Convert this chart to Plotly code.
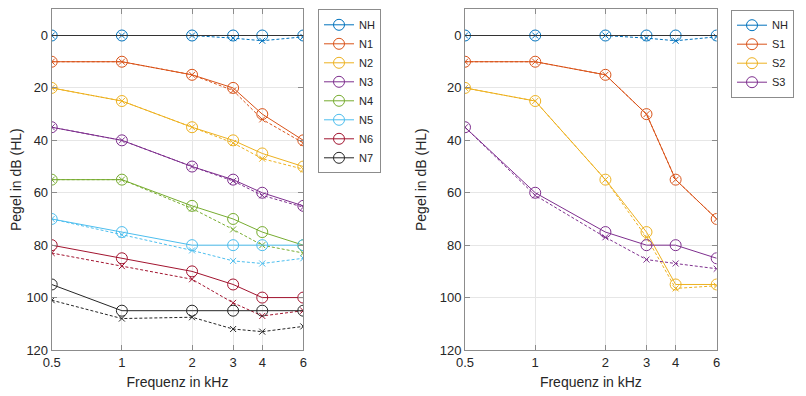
import math
import plotly.graph_objects as go

FREQS = [0.5, 1, 2, 3, 4, 6]
FREQ_LABELS = ["0.5", "1", "2", "3", "4", "6"]
REF_LEVEL = 0

# Left panel: N-series (solid = circles, dashed = crosses)
LEFT_NAMES = ["NH", "N1", "N2", "N3", "N4", "N5", "N6", "N7"]
LEFT_SOLID = [
    [0, 0, 0, 0, 0, 0],
    [10, 10, 15, 20, 30, 40],
    [20, 25, 35, 40, 45, 50],
    [35, 40, 50, 55, 60, 65],
    [55, 55, 65, 70, 75, 80],
    [70, 75, 80, 80, 80, 80],
    [80, 85, 90, 95, 100, 100],
    [95, 105, 105, 105, 105, 105],
]
LEFT_DASHED = [
    [0, 0, 0, 1, 2, 0.5],
    [10, 10, 15, 21, 32, 41],
    [20, 25, 35, 41, 47, 51],
    [35, 40, 50, 55.5, 61, 65.5],
    [55, 55, 66, 74, 80, 83],
    [70, 76, 82, 86, 87, 85],
    [83, 88, 93, 102, 107, 105],
    [101, 108, 107.5, 112, 113, 111],
]

# Right panel: S-series
RIGHT_NAMES = ["NH", "S1", "S2", "S3"]
RIGHT_SOLID = [
    [0, 0, 0, 0, 0, 0],
    [10, 10, 15, 30, 55, 70],
    [20, 25, 55, 75, 95, 95],
    [35, 60, 75, 80, 80, 85],
]
RIGHT_DASHED = [
    [0, 0, 0, 1, 2, 0.5],
    [10, 10, 15, 30, 55, 70],
    [20, 25, 55, 77, 96.5, 95.5],
    [35, 61, 77, 85.5, 87, 89],
]

LEFT_COLORS = ["#0072BD", "#D95319", "#EDB120", "#7E2F8E", "#77AC30", "#4DBEEE", "#A2142F", "#262626"]
RIGHT_COLORS = ["#0072BD", "#D95319", "#EDB120", "#7E2F8E"]

Y_TICKS = [0, 20, 40, 60, 80, 100, 120]

FONT = "Liberation Sans, Arial, sans-serif"
TXT = "#262626"

W, H = 806, 396
OFF = 8  # page body margin offset

fig = go.Figure()


def add_panel(names, solid, dashed, colors, xa, ya, legend):
    for name, s, d, c in zip(names, solid, dashed, colors):
        fig.add_trace(go.Scatter(
            x=FREQS, y=d, mode="lines+markers", xaxis=xa, yaxis=ya,
            line=dict(color=c, width=1, dash="3px,2px"),
            marker=dict(symbol="x-thin", size=6, line=dict(color=c, width=1)),
            showlegend=False, hoverinfo="skip",
        ))
        fig.add_trace(go.Scatter(
            x=FREQS, y=s, mode="lines+markers", name=name, xaxis=xa, yaxis=ya,
            line=dict(color=c, width=1),
            marker=dict(symbol="circle-open", size=11, line=dict(color=c, width=1)),
            legend=legend,
        ))


add_panel(LEFT_NAMES, LEFT_SOLID, LEFT_DASHED, LEFT_COLORS, "x", "y", "legend")
add_panel(RIGHT_NAMES, RIGHT_SOLID, RIGHT_DASHED, RIGHT_COLORS, "x2", "y2", "legend2")


def px_x(p):
    return (p - OFF) / W


def px_y(p):
    return 1 - (p - OFF) / H


ydom = [px_y(350), px_y(9.3)]
xdom1 = [px_x(51.7), px_x(303.3)]
xdom2 = [px_x(465), px_x(716.7)]

axis_common = dict(
    showline=True, linecolor="#8c8c8c", linewidth=1, mirror="ticks",
    ticks="inside", ticklen=5, tickcolor="#8c8c8c",
    showgrid=True, gridcolor="#e6e6e6", gridwidth=1, zeroline=False,
    tickfont=dict(family=FONT, size=13, color=TXT), automargin=False,
)

xcommon = dict(
    type="log", range=[math.log10(FREQS[0]), math.log10(FREQS[-1])],
    tickvals=FREQS, ticktext=FREQ_LABELS,
    title=dict(text="Frequenz in kHz", font=dict(family=FONT, size=14, color=TXT), standoff=8),
    **axis_common,
)
ycommon = dict(
    range=[120, -10], tickvals=Y_TICKS,
    title=dict(text="Pegel in dB (HL)", font=dict(family=FONT, size=14, color=TXT), standoff=9),
    **axis_common,
)

fig.update_layout(
    width=W, height=H,
    margin=dict(l=0, r=0, t=0, b=0, autoexpand=False),
    paper_bgcolor="white", plot_bgcolor="white",
    font=dict(family=FONT, color=TXT),
    xaxis=dict(domain=xdom1, anchor="y", **xcommon),
    yaxis=dict(domain=ydom, anchor="x", **ycommon),
    xaxis2=dict(domain=xdom2, anchor="y2", **xcommon),
    yaxis2=dict(domain=ydom, anchor="x2", **ycommon),
    legend=dict(
        x=px_x(318), y=px_y(9.3), xanchor="left", yanchor="top",
        bordercolor="#8c8c8c", borderwidth=1, bgcolor="white",
        font=dict(family=FONT, size=11, color=TXT), tracegroupgap=0,
    ),
    legend2=dict(
        x=px_x(731), y=px_y(9.7), xanchor="left", yanchor="top",
        bordercolor="#8c8c8c", borderwidth=1, bgcolor="white",
        font=dict(family=FONT, size=11, color=TXT), tracegroupgap=0,
    ),
    showlegend=True,
)

for xr, yr in [("x domain", "y"), ("x2 domain", "y2")]:
    fig.add_shape(type="line", xref=xr, yref=yr, x0=0, x1=1, y0=REF_LEVEL, y1=REF_LEVEL,
                  line=dict(color="#333333", width=1), layer="above")

fig.write_html("out.html")
